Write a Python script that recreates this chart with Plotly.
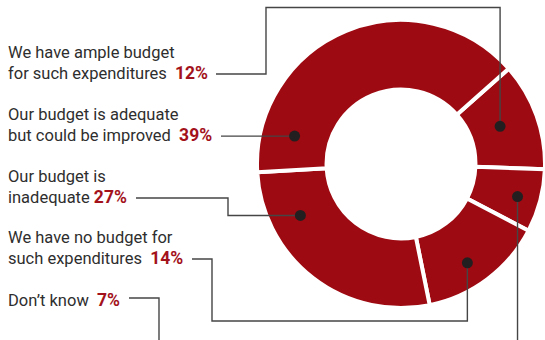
import math
import plotly.graph_objects as go

# Survey answers, in clockwise order around the ring
categories = [
    "We have ample budget<br>for such expenditures",
    "Don\u2019t know",
    "We have no budget for<br>such expenditures",
    "Our budget is<br>inadequate",
    "Our budget is adequate<br>but could be improved",
]
shares = [12, 7, 14, 27, 39]

W, H = 545, 340
RED = "#9E0A11"
PCT_RED = "#A3121B"
TEXT = "#2E2E2E"
LINE = "#454545"

# ring geometry (pixels)
CX, CY, R = 401, 164, 144
HOLE = 0.517
ROT = 48.5


def px(x):
    return x / W


def py(y):
    return 1 - y / H


fig = go.Figure()
fig.add_trace(go.Pie(
    labels=[c.replace("<br>", " ") for c in categories],
    values=shares,
    sort=False,
    direction="clockwise",
    rotation=ROT,
    hole=HOLE,
    textinfo="none",
    hoverinfo="label+percent",
    marker=dict(colors=[RED] * len(shares), line=dict(color="white", width=4)),
    domain=dict(x=[(CX - R) / W, (CX + R) / W], y=[1 - (CY + R) / H, 1 - (CY - R) / H]),
    showlegend=False,
))

# where each leader dot sits: fraction along its slice and distance from centre
dot_frac = [0.474, 0.53, 0.56, 0.758, 0.127]
dot_rad = [106, 121, 119, 113, 110]

total = sum(shares)
dots = []
acc = 0
for v, f, rd in zip(shares, dot_frac, dot_rad):
    a0 = ROT + 360 * acc / total
    a1 = ROT + 360 * (acc + v) / total
    ang = math.radians(a0 + f * (a1 - a0))
    dots.append((CX + rd * math.sin(ang), CY - rd * math.cos(ang)))
    acc += v

# label blocks: top edge of text
label_pos = [41, 288, 226, 165, 103]

gap = ["&nbsp;&nbsp;", "&nbsp;&nbsp;", "&nbsp;&nbsp;", " ", "&nbsp;&nbsp;"]
for cat, v, top, g in zip(categories, shares, label_pos, gap):
    fig.add_annotation(
        x=px(6), y=py(top), xref="paper", yref="paper",
        xanchor="left", yanchor="top", align="left", showarrow=False,
        text=(f"{cat}{g}<span style='color:{PCT_RED};font-size:17.5px'>"
              f"<b>{v}%</b></span>"),
        font=dict(family="Roboto", size=16.5, color=TEXT),
    )


def path(points):
    return "M " + " L ".join(f"{px(x):.5f},{py(y):.5f}" for x, y in points)


d_ample, d_dk, d_none, d_inad, d_adeq = dots
routes = [
    [(216, 74), (266, 74), (266, 7.5), (d_ample[0], 7.5), d_ample],
    [(129, 298), (159, 298), (159, 345)],
    [(d_dk[0], d_dk[1]), (d_dk[0], 345)],
    [(192, 259), (212, 259), (212, 321), (d_none[0], 321), d_none],
    [(136, 198), (228, 198), (228, d_inad[1]), d_inad],
    [(221, d_adeq[1]), d_adeq],
]
for r in routes:
    fig.add_shape(type="path", path=path(r), xref="paper", yref="paper",
                  line=dict(color=LINE, width=1.4), layer="above")

for x, y in dots:
    fig.add_shape(type="circle", xref="paper", yref="paper",
                  x0=px(x - 5.5), x1=px(x + 5.5), y0=py(y + 5.5), y1=py(y - 5.5),
                  fillcolor="#231F20", line=dict(width=0), layer="above")

fig.update_layout(
    width=W, height=H,
    margin=dict(l=0, r=0, t=0, b=0),
    paper_bgcolor="white",
    plot_bgcolor="white",
)

fig.write_html("out.html")
